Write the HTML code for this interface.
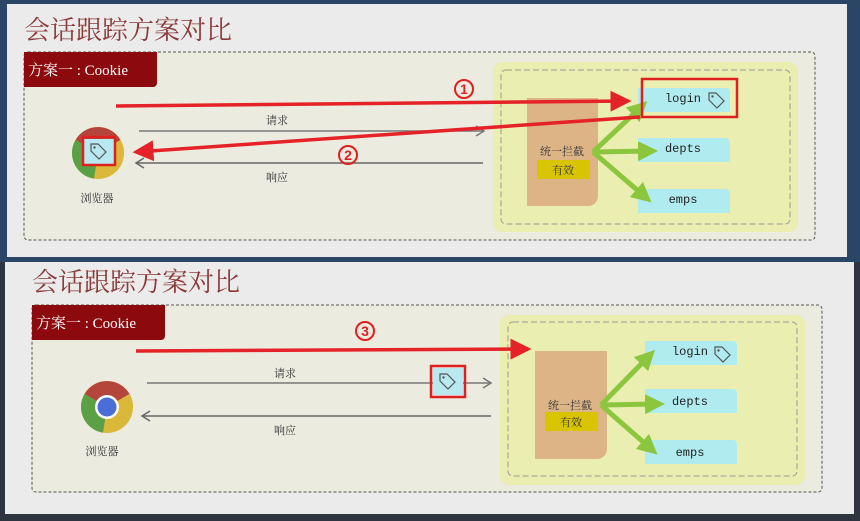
<!DOCTYPE html>
<html><head><meta charset="utf-8"><style>
html,body{margin:0;padding:0;background:#333;}
svg{display:block;}
text{font-family:"Liberation Serif","Noto Serif CJK SC",serif;}
.m{font-family:"Liberation Mono","DejaVu Sans Mono",monospace;font-size:12px;fill:#222;}
.s{font-size:11px;fill:#333;}
.n{font-family:"Liberation Sans",sans-serif;font-size:14px;font-weight:bold;fill:#e02020;}
</style></head><body>
<svg width="860" height="521" viewBox="0 0 860 521" xmlns="http://www.w3.org/2000/svg">
<defs>
<marker id="rh" markerWidth="6" markerHeight="6" refX="5" refY="3" orient="auto" markerUnits="strokeWidth"><path d="M0,0 L6,3 L0,6 z" fill="#e52227"/></marker>
<marker id="gh" markerWidth="4" markerHeight="4" refX="2" refY="2" orient="auto" markerUnits="strokeWidth"><path d="M0,0 L4,2 L0,4 z" fill="#8cc63f"/></marker>
<g id="chrome">
<circle r="26" fill="#d9b83a"/>
<path d="M0,0 L-26,0 A26,26 0 0 0 -4,25.7 Z" fill="#5aa046"/>
<path d="M0,0 L-22.5,-13 A26,26 0 0 1 22.5,-13 L0,0" fill="#b5453a"/>
<path d="M0,0 L-26,0 A26,26 0 0 1 -22.5,-13 Z" fill="#5aa046"/>
<path d="M0,0 L22.5,-13 A26,26 0 0 1 26,0 Z" fill="#d9b83a"/>
<circle r="12" fill="#fff"/><circle r="9.5" fill="#4a6ed8"/>
</g>
<g id="tag"><path d="M-7,-7 L0,-7 L8,1 L1,8 L-7,0 Z" fill="none" stroke="#555" stroke-width="1.2"/><circle cx="-3.5" cy="-3.5" r="1.2" fill="#555"/></g>
</defs>
<rect width="860" height="521" fill="#2e3540"/>
<rect x="0" y="0" width="860" height="262" fill="#2a4566"/>
<!-- top panel -->
<rect x="7" y="4" width="840" height="253" fill="#ebebeb"/>
<text x="24" y="39" font-size="26" fill="#8b3a3a">会话跟踪方案对比</text>
<rect x="24" y="52" width="791" height="188" rx="4" fill="#ecebdf" stroke="#555" stroke-dasharray="3,2"/>
<path d="M24,52 H157 V83 a4,4 0 0 1 -4,4 H24 Z" fill="#8c0a0e"/>
<text x="28" y="75" font-size="15" fill="#fff">方案一 : Cookie</text>
<rect x="493" y="62" width="305" height="170" rx="9" fill="#eaeeb0"/>
<rect x="501" y="70" width="289" height="154" rx="5" fill="none" stroke="#999" stroke-dasharray="6,3"/>
<path d="M527,98 H598 V196 a10,10 0 0 1 -10,10 H527 Z" fill="#dcb485"/>
<text x="562" y="155" class="s" text-anchor="middle">统一拦截</text>
<rect x="537" y="160" width="53" height="19" fill="#d9c400"/>
<text x="563" y="174" class="s" text-anchor="middle">有效</text>
<path d="M638,88 H726 a4,4 0 0 1 4,4 V112 H638 Z" fill="#b0ecef"/>
<path d="M638,138 H726 a4,4 0 0 1 4,4 V162 H638 Z" fill="#b0ecef"/>
<path d="M638,189 H726 a4,4 0 0 1 4,4 V213 H638 Z" fill="#b0ecef"/>
<text x="683" y="102" class="m" text-anchor="middle">login</text>
<use href="#tag" x="716" y="100"/>
<text x="683" y="152" class="m" text-anchor="middle">depts</text>
<text x="683" y="203" class="m" text-anchor="middle">emps</text>
<g stroke="#8cc63f" stroke-width="5" fill="none" marker-end="url(#gh)">
<line x1="593" y1="152" x2="640" y2="108"/><line x1="593" y1="152" x2="648" y2="151"/><line x1="593" y1="152" x2="644" y2="196"/></g>
<rect x="642" y="79" width="95" height="38" fill="none" stroke="#e02020" stroke-width="2.5"/>
<line x1="139" y1="131" x2="483" y2="131" stroke="#777" stroke-width="1.5"/><path d="M476,126 L484,131 L476,136" fill="none" stroke="#777" stroke-width="1.5"/>
<text x="277" y="124" class="s" text-anchor="middle">请求</text>
<line x1="137" y1="163" x2="483" y2="163" stroke="#666" stroke-width="1.5"/><path d="M144,158 L136,163 L144,168" fill="none" stroke="#666" stroke-width="1.5"/>
<text x="277" y="181" class="s" text-anchor="middle">响应</text>
<use href="#chrome" x="98" y="153"/>
<rect x="84" y="139" width="30" height="25" fill="#b8e8f0"/><use href="#tag" x="98" y="151"/>
<rect x="83" y="137" width="32" height="28" fill="none" stroke="#e02020" stroke-width="2.5"/>
<text x="97" y="202" class="s" text-anchor="middle">浏览器</text>
<line x1="116" y1="106" x2="628" y2="101" stroke="#e52227" stroke-width="3.5" marker-end="url(#rh)"/>
<line x1="640" y1="117" x2="136" y2="152" stroke="#e52227" stroke-width="3.5" marker-end="url(#rh)"/>
<circle cx="464" cy="89" r="9" fill="none" stroke="#e02020" stroke-width="2"/><text x="464" y="94" class="n" text-anchor="middle">1</text>
<circle cx="348" cy="155" r="9" fill="none" stroke="#e02020" stroke-width="2"/><text x="348" y="160" class="n" text-anchor="middle">2</text>
<!-- bottom panel -->
<rect x="5" y="262" width="849" height="252" fill="#ebebeb"/>
<text x="32" y="291" font-size="26" fill="#8b3a3a">会话跟踪方案对比</text>
<rect x="32" y="305" width="790" height="187" rx="4" fill="#ecebdf" stroke="#555" stroke-dasharray="3,2"/>
<path d="M32,305 H165 V336 a4,4 0 0 1 -4,4 H32 Z" fill="#8c0a0e"/>
<text x="36" y="328" font-size="15" fill="#fff">方案一 : Cookie</text>
<rect x="500" y="315" width="305" height="170" rx="9" fill="#eaeeb0"/>
<rect x="508" y="322" width="289" height="154" rx="5" fill="none" stroke="#999" stroke-dasharray="6,3"/>
<path d="M535,351 H607 V449 a10,10 0 0 1 -10,10 H535 Z" fill="#dcb485"/>
<text x="570" y="409" class="s" text-anchor="middle">统一拦截</text>
<rect x="545" y="412" width="53" height="19" fill="#d9c400"/>
<text x="571" y="426" class="s" text-anchor="middle">有效</text>
<path d="M645,341 H733 a4,4 0 0 1 4,4 V365 H645 Z" fill="#b0ecef"/>
<path d="M645,389 H733 a4,4 0 0 1 4,4 V413 H645 Z" fill="#b0ecef"/>
<path d="M645,440 H733 a4,4 0 0 1 4,4 V464 H645 Z" fill="#b0ecef"/>
<text x="690" y="355" class="m" text-anchor="middle">login</text>
<use href="#tag" x="722" y="354"/>
<text x="690" y="405" class="m" text-anchor="middle">depts</text>
<text x="690" y="456" class="m" text-anchor="middle">emps</text>
<g stroke="#8cc63f" stroke-width="5" fill="none" marker-end="url(#gh)">
<line x1="601" y1="405" x2="648" y2="357"/><line x1="601" y1="405" x2="655" y2="404"/><line x1="601" y1="405" x2="650" y2="448"/></g>
<line x1="147" y1="383" x2="490" y2="383" stroke="#777" stroke-width="1.5"/><path d="M483,378 L491,383 L483,388" fill="none" stroke="#777" stroke-width="1.5"/>
<text x="285" y="377" class="s" text-anchor="middle">请求</text>
<line x1="143" y1="416" x2="491" y2="416" stroke="#666" stroke-width="1.5"/><path d="M150,411 L142,416 L150,421" fill="none" stroke="#666" stroke-width="1.5"/>
<text x="285" y="434" class="s" text-anchor="middle">响应</text>
<rect x="433" y="368" width="30" height="27" fill="#b8e8f0"/><use href="#tag" x="447" y="381"/>
<rect x="431" y="366" width="34" height="31" fill="none" stroke="#e02020" stroke-width="2.5"/>
<use href="#chrome" x="107" y="407"/>
<text x="102" y="455" class="s" text-anchor="middle">浏览器</text>
<line x1="136" y1="351" x2="528" y2="349" stroke="#e52227" stroke-width="3.5" marker-end="url(#rh)"/>
<circle cx="365" cy="331" r="9" fill="none" stroke="#e02020" stroke-width="2"/><text x="365" y="336" class="n" text-anchor="middle">3</text>
</svg>
</body></html>
